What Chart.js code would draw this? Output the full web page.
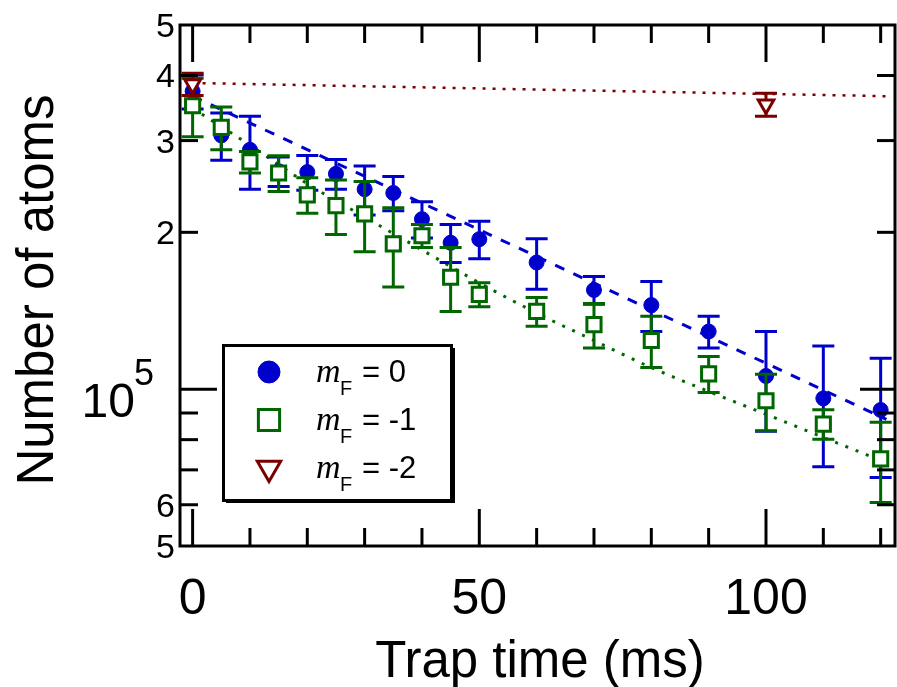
<!DOCTYPE html>
<html><head><meta charset="utf-8">
<script src="https://cdn.jsdelivr.net/npm/chart.js@4/dist/chart.umd.min.js"></script>
<style>html,body{margin:0;padding:0;background:#fff;overflow:hidden}</style>
</head><body>
<canvas id="c" width="897" height="687"></canvas>
<script>
// ---- data ----
const timesF0 = [0,5,10,15,20,25,30,35,40,45,50,60,70,80,90,100,110,120];
const atomsF0 = [373000,307000,288000,262000,261000,259000,242000,238000,212000,191000,194000,175000,155000,145000,129000,106000,96000,91200];
const errF0   = [28000,32000,46000,17000,20000,17000,26000,18000,17000,16000,16000,19500,9500,16000,9000,23000,25000,23500];

const timesF1 = [0,5,10,15,20,25,30,35,40,45,50,60,70,80,90,100,110,120];
const atomsF1 = [350000,318000,273000,260000,236000,225000,217000,190000,197000,164000,152000,141000,133000,124000,107000,95000,85700,73500];
const errF1   = [45000,30000,13000,20500,18500,27000,33500,33000,10000,23000,8000,9000,13000,14000,8500,11800,5600,12900];

const timesF2 = [0,100];
const atomsF2 = [385000,352000];
const errF2   = [19000,18000];

const fitTimesF0 = [0,121];
const fitF0      = [365000,87500];
const fitTimesF1 = [0,10,20,30,40,50,60,70,80,90,100,110,120];
const fitF1      = [346000,294000,248000,214000,185000,160000,140000,124000,110000,99000,89500,80800,73000];
const fitTimesF2 = [0,121];
const fitF2      = [387000,365000];

const legendLabels = ['= 0','= -1','= -2'];
const xTickValues = [0,50,100];
const xTickLabels = ['0','50','100'];
const xMinorTicks = [10,20,30,40,60,70,80,90,110,120];
const yTickValues = [500000,400000,300000,200000,60000,50000];
const yTickLabels = ['5','4','3','2','6','5'];
const yDecadeTick = 100000;
const yMinorTicks = [400000,300000,200000,90000,80000,70000,60000];

const BLUE = '#0000cc', GREEN = '#006600', RED = '#7a0000';
const pts = (xs, ys) => xs.map((x,i)=>({x:x, y:ys[i]}));
const SANS = '"Liberation Sans", Arial, sans-serif';

const decor = {
  id:'decor',
  beforeDatasetDraw(chart, args){
    const ds = chart.data.datasets[args.index];
    if(!ds.errors) return;
    const ctx = chart.ctx, xs = chart.scales.x, ys = chart.scales.y;
    ctx.save();
    ctx.strokeStyle = ds.borderColor; ctx.lineWidth = 3;
    ds.data.forEach((p,i)=>{
      const e = ds.errors[i];
      const px = xs.getPixelForValue(p.x);
      const y1 = ys.getPixelForValue(p.y+e), y2 = ys.getPixelForValue(p.y-e);
      ctx.beginPath();
      ctx.moveTo(px,y1); ctx.lineTo(px,y2);
      ctx.moveTo(px-11,y1); ctx.lineTo(px+11,y1);
      ctx.moveTo(px-11,y2); ctx.lineTo(px+11,y2);
      ctx.stroke();
    });
    ctx.restore();
  },
  afterDraw(chart){
    const ctx = chart.ctx, a = chart.chartArea, xs = chart.scales.x, ys = chart.scales.y;
    ctx.save();
    ctx.strokeStyle = '#000'; ctx.fillStyle = '#000'; ctx.lineWidth = 3;
    // frame
    ctx.strokeRect(a.left, a.top, a.right-a.left, a.bottom-a.top);
    // ticks
    const tick = (x1,y1,x2,y2)=>{ctx.beginPath();ctx.moveTo(x1,y1);ctx.lineTo(x2,y2);ctx.stroke();};
    xMinorTicks.forEach(v=>{const x=xs.getPixelForValue(v); tick(x,a.bottom,x,a.bottom-18); tick(x,a.top,x,a.top+18);});
    xTickValues.forEach(v=>{const x=xs.getPixelForValue(v); tick(x,a.bottom,x,a.bottom-37); tick(x,a.top,x,a.top+37);});
    yMinorTicks.forEach(v=>{const y=ys.getPixelForValue(v); tick(a.left,y,a.left+18,y); tick(a.right,y,a.right-18,y);});
    {const y=ys.getPixelForValue(yDecadeTick); tick(a.left,y,a.left+37,y); tick(a.right,y,a.right-35,y);}
    // x tick labels
    ctx.font = '50px '+SANS; ctx.textAlign='center'; ctx.textBaseline='alphabetic';
    xTickValues.forEach((v,i)=>ctx.fillText(xTickLabels[i], xs.getPixelForValue(v), 614));
    // y tick labels
    ctx.font = '34px '+SANS; ctx.textAlign='right';
    yTickValues.forEach((v,i)=>ctx.fillText(yTickLabels[i], 175, ys.getPixelForValue(v)+12));
    {const y=ys.getPixelForValue(yDecadeTick);
     ctx.font='48px '+SANS; ctx.textAlign='right'; ctx.fillText('10', 135, y+28);
     ctx.font='36px '+SANS; ctx.textAlign='left'; ctx.fillText('5', 134, y-4);}
    // axis titles
    ctx.font = '51px '+SANS; ctx.textAlign='center';
    ctx.fillText('Trap time (ms)', 540, 677);
    ctx.save(); ctx.translate(53, 290); ctx.rotate(-Math.PI/2);
    ctx.fillText('Number of atoms', 0, 0); ctx.restore();
    // legend
    ctx.fillStyle='#fff'; ctx.fillRect(223,345,228,155);
    ctx.fillStyle='#000';
    ctx.strokeRect(223.5,345.5,228,155);
    ctx.fillRect(451,348,4,155); ctx.fillRect(226,499,229,4);
    const rows = [
      {y:372, style:{pointStyle:'circle', radius:11, rotation:0, borderWidth:1}, fill:BLUE, stroke:BLUE},
      {y:420, style:{pointStyle:'rect', radius:15, rotation:0, borderWidth:3}, fill:'#fff', stroke:GREEN},
      {y:468, style:{pointStyle:'triangle', radius:13.5, rotation:180, borderWidth:3}, fill:'#fff', stroke:RED}
    ];
    rows.forEach((r,i)=>{
      ctx.fillStyle=r.fill; ctx.strokeStyle=r.stroke; ctx.lineWidth=r.style.borderWidth;
      Chart.helpers.drawPoint(ctx, r.style, 269, r.y);
      ctx.fillStyle='#000'; ctx.textAlign='left';
      const b = r.y+10;
      ctx.font='italic 34px "Liberation Serif", "Times New Roman", serif';
      ctx.fillText('m', 316, b);
      ctx.font='20px '+SANS; ctx.fillText('F', 340, b+13);
      ctx.font='31px '+SANS; ctx.fillText(legendLabels[i], 362, b);
    });
    ctx.restore();
  }
};

new Chart(document.getElementById('c'), {
  type:'scatter',
  data:{ datasets:[
    {label:'mF = -2', data:pts(timesF2,atomsF2), errors:errF2, order:1, showLine:false,
     pointStyle:'triangle', rotation:180, pointRadius:9, pointBorderWidth:3, borderColor:RED, backgroundColor:'#fff'},
    {label:'mF = -1', data:pts(timesF1,atomsF1), errors:errF1, order:2, showLine:false,
     pointStyle:'rect', pointRadius:10, pointBorderWidth:3, borderColor:GREEN, backgroundColor:'#fff'},
    {label:'mF = 0', data:pts(timesF0,atomsF0), errors:errF0, order:3, showLine:false,
     pointStyle:'circle', pointRadius:7.5, pointBorderWidth:1, borderColor:BLUE, backgroundColor:BLUE},
    {label:'fit 0', data:pts(fitTimesF0,fitF0), order:4, showLine:true, pointRadius:0,
     borderColor:BLUE, borderWidth:3, borderDash:[10,10]},
    {label:'fit -1', data:pts(fitTimesF1,fitF1), order:5, showLine:true, pointRadius:0,
     borderColor:GREEN, borderWidth:3, borderDash:[3,8], cubicInterpolationMode:'monotone'},
    {label:'fit -2', data:pts(fitTimesF2,fitF2), order:6, showLine:true, pointRadius:0,
     borderColor:RED, borderWidth:2.5, borderDash:[3,7]}
  ]},
  options:{
    responsive:false, animation:false, devicePixelRatio:1,
    layout:{autoPadding:false, padding:{left:180, top:25, right:2, bottom:141}},
    plugins:{legend:{display:false}, tooltip:{enabled:false}},
    scales:{
      x:{type:'linear', min:-2.2, max:122.5, display:false},
      y:{type:'logarithmic', min:50000, max:500000, display:false}
    }
  },
  plugins:[decor]
});
</script>
</body></html>
